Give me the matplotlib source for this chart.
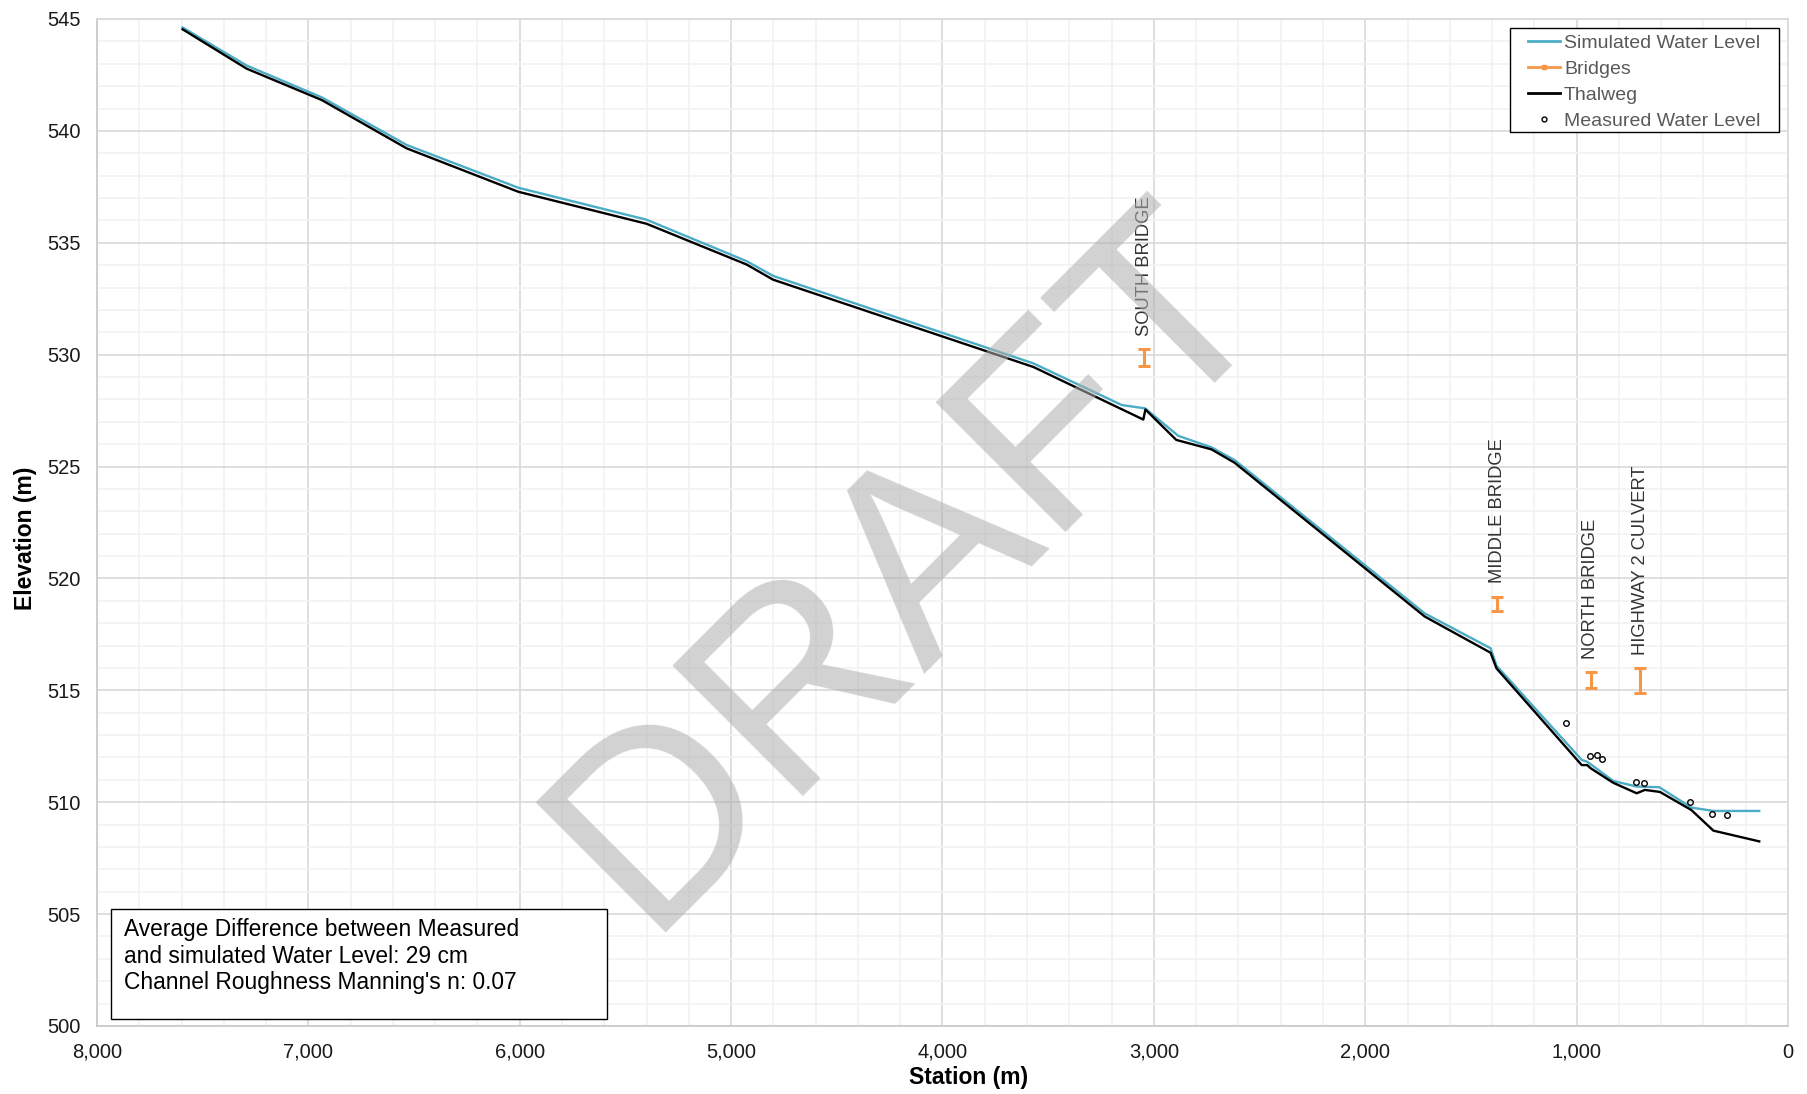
import numpy as np
import matplotlib
matplotlib.use("Agg")
import matplotlib.pyplot as plt
from matplotlib.lines import Line2D
from matplotlib.patches import Rectangle
from matplotlib.ticker import FuncFormatter, MultipleLocator

plt.rcParams['font.family'] = ['Liberation Sans', 'DejaVu Sans']

# Thalweg (channel bed) profile
thalweg_station = [7595, 7292, 6937, 6535, 6007, 5400, 4927, 4801, 3570, 3050, 3040,
                   2894, 2728, 2618, 1719, 1407, 1379, 976, 950, 934, 827, 716, 677,
                   606, 457, 353, 136]
thalweg_elev = [544.54, 542.78, 541.38, 539.22, 537.28, 535.85, 534.03, 533.35, 529.45,
                527.10, 527.55, 526.19, 525.77, 525.17, 518.30, 516.68, 515.98, 511.66,
                511.66, 511.52, 510.87, 510.40, 510.55, 510.46, 509.65, 508.73, 508.25]

# Simulated water surface
sim_station = [7595, 7292, 6937, 6535, 6007, 5400, 4927, 4801, 3570, 3152, 3042, 2884,
               2728, 2618, 1719, 1407, 1379, 976, 950, 827, 716, 609, 457, 353, 136]
sim_elev = [544.62, 542.92, 541.50, 539.37, 537.46, 536.03, 534.18, 533.52, 529.61,
            527.75, 527.60, 526.37, 525.86, 525.29, 518.44, 516.88, 516.10, 511.89,
            511.81, 510.95, 510.70, 510.67, 509.76, 509.61, 509.61]

# Measured water levels
meas_station = [1052, 937, 905, 882, 719, 679, 464, 358, 289]
meas_elev = [513.53, 512.07, 512.11, 511.92, 510.90, 510.87, 510.00, 509.48, 509.44]

# Bridges (deck bottom / top)
bridge_names = ["SOUTH BRIDGE", "MIDDLE BRIDGE", "NORTH BRIDGE", "HIGHWAY 2 CULVERT"]
bridge_station = [3045, 1375, 934, 700]
bridge_low = [529.49, 518.55, 515.09, 514.87]
bridge_high = [530.25, 519.19, 515.81, 515.99]

note_lines = ["Average Difference between Measured",
              "and simulated Water Level: 29 cm",
              "Channel Roughness Manning's n: 0.07"]

blue = "#4BACC6"
orange = "#F79646"

fig = plt.figure(figsize=(18.08, 10.94), dpi=100)
ax = fig.add_axes([97 / 1808, 68 / 1094, 1691 / 1808, 1007 / 1094])

ax.plot(sim_station, sim_elev, color=blue, lw=1.7, zorder=3)
b_low = np.array(bridge_low)
b_high = np.array(bridge_high)
ax.errorbar(bridge_station, (b_low + b_high) / 2, yerr=(b_high - b_low) / 2, fmt='none',
            ecolor=orange, elinewidth=2.2, capsize=4, capthick=2.2, zorder=3)
ax.plot(thalweg_station, thalweg_elev, color="black", lw=1.7, zorder=4)
ax.plot(meas_station, meas_elev, linestyle="none", marker="o", markersize=4,
        mfc="none", mec="black", mew=1.0, zorder=5)

for name, xs, top in zip(bridge_names, bridge_station, bridge_high):
    ax.text(xs, top + 0.6, name, rotation=90, ha='center', va='bottom',
            fontsize=13.2, color="#333333", zorder=5)

ax.set_xlim(8000, 0)
ax.set_ylim(500, 545)
ax.xaxis.set_major_locator(MultipleLocator(1000))
ax.xaxis.set_minor_locator(MultipleLocator(200))
ax.yaxis.set_major_locator(MultipleLocator(5))
ax.yaxis.set_minor_locator(MultipleLocator(1))
ax.xaxis.set_major_formatter(FuncFormatter(lambda v, p: "{:,}".format(int(v))))
ax.set_axisbelow(True)
ax.grid(which='major', color='#d9d9d9', linewidth=1.2)
ax.grid(which='minor', color='#f2f2f2', linewidth=1.2)
ax.tick_params(which='both', length=0, labelsize=14.5, labelcolor='#1a1a1a', pad=12)
for s in ax.spines.values():
    s.set_color('#d9d9d9')
    s.set_linewidth(1.2)
ax.spines['left'].set_color('#c8c8c8')
ax.spines['bottom'].set_color('#c8c8c8')

ax.set_xlabel("Station (m)", fontsize=16.5, fontweight='bold')
ax.set_ylabel("Elevation (m)", fontsize=16.5, fontweight='bold')
ax.xaxis.set_label_coords(0.5157, -0.0516)
ax.yaxis.set_label_coords(-0.0423, 0.4845)
ax.xaxis.label.set_va('center')
ax.yaxis.label.set_va('center')

# note box
ax.add_patch(Rectangle((0.0083, 0.007), 0.2933, 0.109, transform=ax.transAxes,
                       facecolor='white', edgecolor='black', lw=1.0, zorder=6))
ax.text(0.016, 0.1072, "\n".join(note_lines), transform=ax.transAxes, ha='left', va='top',
        fontsize=16.4, color='black', linespacing=1.2, zorder=7)

# legend: frame drawn separately
ax.add_patch(Rectangle((0.8356, 0.8878), 0.1591, 0.1033, transform=ax.transAxes,
                       facecolor='white', edgecolor='black', lw=1.0, zorder=8))
handles = [
    Line2D([], [], color=blue, lw=2),
    Line2D([], [], color=orange, lw=2, marker='s', markersize=3),
    Line2D([], [], color='black', lw=2),
    Line2D([], [], linestyle='none', marker='o', markersize=3.5, mfc='none', mec='black'),
]
labels = ["Simulated Water Level", "Bridges", "Thalweg", "Measured Water Level"]
leg = ax.legend(handles, labels, loc='upper left', bbox_to_anchor=(0.8463, 0.985),
                borderaxespad=0, borderpad=0, fontsize=14, frameon=False,
                labelspacing=0.43, handlelength=1.65, handletextpad=0.2,
                labelcolor='#595959')
leg.set_zorder(9)

# watermark
ax.text(0.482, 0.455, "DRAFT", transform=ax.transAxes, rotation=45, ha='center',
        va='center', fontsize=193, color='#adadad', alpha=0.55, zorder=10,
        rotation_mode='anchor')

fig.savefig("out.png", dpi=100)
